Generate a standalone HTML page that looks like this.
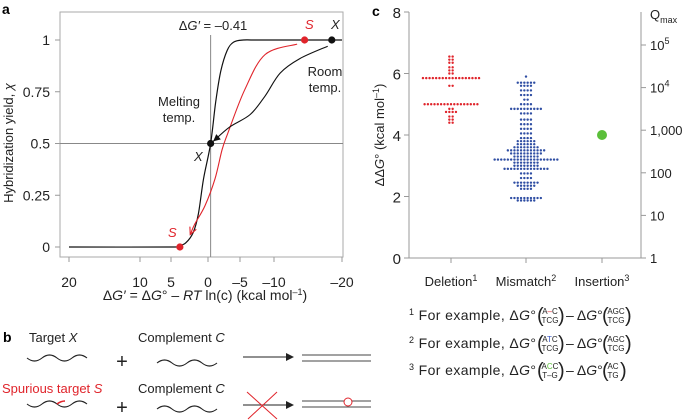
<!DOCTYPE html>
<html><head><meta charset="utf-8">
<style>
html,body{margin:0;padding:0;background:#fff;}
svg{display:block;font-family:"Liberation Sans",sans-serif;}
</style></head>
<body>
<svg id="fig" width="685" height="420" viewBox="0 0 685 420" xmlns="http://www.w3.org/2000/svg">
<defs>
<marker id="ahb" markerWidth="8" markerHeight="8" refX="7" refY="4" orient="auto" markerUnits="userSpaceOnUse"><path d="M0,0 L8,4 L0,8 z" fill="#222"/></marker>
</defs>
<!-- Panel a -->
<g id="pa">
  <text x="2" y="14" font-size="14" font-weight="bold">a</text>
  <rect x="60" y="12" width="283" height="245" fill="none" stroke="#aaa" stroke-width="1"/>
  <text transform="translate(13,143) rotate(-90)" text-anchor="middle" font-size="13" fill="#222">Hybridization yield, <tspan font-style="italic">χ</tspan></text>
  <text x="205" y="300" text-anchor="middle" font-size="14" fill="#222">Δ<tspan font-style="italic">G′</tspan> = Δ<tspan font-style="italic">G</tspan>° – <tspan font-style="italic">RT</tspan> ln(c) (kcal mol<tspan dy="-5" font-size="9">–1</tspan><tspan dy="5">)</tspan></text>
  <text x="213" y="30" text-anchor="middle" font-size="13" fill="#222">Δ<tspan font-style="italic">G′</tspan> = –0.41</text>
  <text x="325" y="76" text-anchor="middle" font-size="13" fill="#222">Room</text>
  <text x="325" y="92" text-anchor="middle" font-size="13" fill="#222">temp.</text>
  <text x="179" y="106" text-anchor="middle" font-size="13" fill="#222">Melting</text>
  <text x="179" y="122" text-anchor="middle" font-size="13" fill="#222">temp.</text>
  <text x="194" y="161" font-size="13" font-style="italic" fill="#222">X</text>
  <text x="331" y="29" font-size="13" font-style="italic" fill="#222">X</text>
  <text x="305" y="29" font-size="13" font-style="italic" fill="#e0242b">S</text>
  <text x="168" y="237" font-size="13" font-style="italic" fill="#e0242b">S</text>
</g>
<!-- Panel c -->
<g id="pc">
  <text x="372" y="16" font-size="14" font-weight="bold">c</text>
  <text transform="translate(384,135) rotate(-90)" text-anchor="middle" font-size="13" fill="#222">ΔΔ<tspan font-style="italic">G</tspan>° (kcal mol<tspan dy="-5" font-size="9">–1</tspan><tspan dy="5">)</tspan></text>
  <text x="650" y="19" font-size="13" fill="#222">Q<tspan dy="4" font-size="9">max</tspan></text>
</g>
<!-- Panel b -->
<g id="pb">
  <text x="3" y="342" font-size="14" font-weight="bold">b</text>
  <text x="29" y="342" font-size="13" fill="#222">Target <tspan font-style="italic">X</tspan></text>
  <text x="138" y="342" font-size="13" fill="#222">Complement <tspan font-style="italic">C</tspan></text>
  <text x="2" y="393" font-size="13" fill="#e0242b">Spurious target <tspan font-style="italic">S</tspan></text>
  <text x="138" y="393" font-size="13" fill="#222">Complement <tspan font-style="italic">C</tspan></text>
  <path d="M27,358 q7.5,6 15,0 t15,0 t15,0 t15,0" fill="none" stroke="#222" stroke-width="1.1"/>
  <path d="M157,363 q7.5,-6 15,0 t15,0 t15,0 t15,0" fill="none" stroke="#222" stroke-width="1.1"/>
  <text x="122" y="368" text-anchor="middle" font-size="20" fill="#222">+</text>
  <line x1="243" y1="357" x2="293" y2="357" stroke="#222" stroke-width="1" marker-end="url(#ahb)"/>
  <line x1="302" y1="355" x2="371" y2="355" stroke="#444" stroke-width="1"/>
  <line x1="302" y1="361" x2="371" y2="361" stroke="#444" stroke-width="1"/>
  <path d="M27,404 q7.5,6 15,0 t15,0 t15,0 t15,0" fill="none" stroke="#222" stroke-width="1.1"/>
  <path d="M57,404 q4,-3 8,-3" fill="none" stroke="#e0242b" stroke-width="1.6"/>
  <path d="M157,409 q7.5,-6 15,0 t15,0 t15,0 t15,0" fill="none" stroke="#222" stroke-width="1.1"/>
  <text x="122" y="414" text-anchor="middle" font-size="20" fill="#222">+</text>
  <line x1="243" y1="405" x2="293" y2="405" stroke="#222" stroke-width="1" marker-end="url(#ahb)"/>
  <line x1="247" y1="392" x2="277" y2="419" stroke="#e0242b" stroke-width="1"/>
  <line x1="277" y1="392" x2="248" y2="419" stroke="#e0242b" stroke-width="1"/>
  <line x1="302" y1="401" x2="371" y2="401" stroke="#444" stroke-width="1"/>
  <line x1="302" y1="407" x2="371" y2="407" stroke="#444" stroke-width="1"/>
  <circle cx="348" cy="402" r="4" fill="#fff" stroke="#e0242b" stroke-width="1"/>
</g>
<!-- Footnotes -->
<g id="fn" font-size="14" fill="#222">
  <g>
    <text x="409" y="320" textLength="127" lengthAdjust="spacing"><tspan font-size="9" dy="-5">1</tspan><tspan dy="5"> For example, Δ</tspan><tspan font-style="italic">G</tspan>°</text>
    <text x="537" y="322" font-size="20">(</text>
    <text x="550" y="314" font-size="8" text-anchor="middle">A<tspan fill="#e0242b">–</tspan>C</text>
    <text x="550" y="323" font-size="8" text-anchor="middle">TCG</text>
    <text x="558" y="322" font-size="20">)</text>
    <text x="566" y="320"> – Δ<tspan font-style="italic">G</tspan>°</text>
    <text x="602" y="322" font-size="20">(</text>
    <text x="616" y="314" font-size="8" text-anchor="middle">AGC</text>
    <text x="616" y="323" font-size="8" text-anchor="middle">TCG</text>
    <text x="625" y="322" font-size="20">)</text>
  </g>
  <g>
    <text x="409" y="348" textLength="127" lengthAdjust="spacing"><tspan font-size="9" dy="-5">2</tspan><tspan dy="5"> For example, Δ</tspan><tspan font-style="italic">G</tspan>°</text>
    <text x="537" y="350" font-size="20">(</text>
    <text x="550" y="342" font-size="8" text-anchor="middle">A<tspan fill="#3a57c4">T</tspan>C</text>
    <text x="550" y="351" font-size="8" text-anchor="middle">TCG</text>
    <text x="558" y="350" font-size="20">)</text>
    <text x="566" y="348"> – Δ<tspan font-style="italic">G</tspan>°</text>
    <text x="602" y="350" font-size="20">(</text>
    <text x="616" y="342" font-size="8" text-anchor="middle">AGC</text>
    <text x="616" y="351" font-size="8" text-anchor="middle">TCG</text>
    <text x="625" y="350" font-size="20">)</text>
  </g>
  <g>
    <text x="409" y="375" textLength="127" lengthAdjust="spacing"><tspan font-size="9" dy="-5">3</tspan><tspan dy="5"> For example, Δ</tspan><tspan font-style="italic">G</tspan>°</text>
    <text x="537" y="377" font-size="20">(</text>
    <text x="550" y="369" font-size="8" text-anchor="middle">A<tspan fill="#5bbf3a">C</tspan>C</text>
    <text x="550" y="378" font-size="8" text-anchor="middle">T–G</text>
    <text x="558" y="377" font-size="20">)</text>
    <text x="566" y="375"> – Δ<tspan font-style="italic">G</tspan>°</text>
    <text x="602" y="377" font-size="20">(</text>
    <text x="613" y="369" font-size="8" text-anchor="middle">AC</text>
    <text x="613" y="378" font-size="8" text-anchor="middle">TG</text>
    <text x="620" y="377" font-size="20">)</text>
  </g>
</g>
</svg>
<script>
// ---------- Panel a data ----------
const aXTicks = [20, 10, 5, 0, -5, -10, -20];
const aXTickLabels = ["20", "10", "5", "0", "–5", "–10", "–20"];
const aYTicks = [0, 0.25, 0.5, 0.75, 1];
const aYTickLabels = ["0", "0.25", "0.5", "0.75", "1"];
const meltingDG = -0.41;
const steepDG = [20, 5, 4, 3, 2, 1.3, 0.6, -0.41, -1.2, -2, -3, -4, -5.5, -8, -20];
const steepChi = [0, 0, 0.004, 0.02, 0.07, 0.16, 0.33, 0.5, 0.7, 0.85, 0.95, 0.99, 1, 1, 1];
const redDG = [-13.4, -8.7, -5.7, -3.1, -2.2, -1.1, 0.4, 1.8, 2.4];
const redChi = [0.98, 0.93, 0.76, 0.55, 0.47, 0.33, 0.2, 0.11, 0.06];
const roomDG = [-17.9, -13.8, -10.9, -8.7, -6.5, -3.4, -0.8];
const roomChi = [0.97, 0.91, 0.84, 0.73, 0.64, 0.58, 0.51];
const pointsDG = [-18.5, -0.41, -14.5, 3.8];
const pointsChi = [1, 0.5, 1, 0];
const pointsColor = ["#111", "#111", "#e0242b", "#e0242b"];

// ---------- Panel c data ----------
const cCategories = ["Deletion", "Mismatch", "Insertion"];
const cCatSup = ["1", "2", "3"];
const cYTicks = [0, 2, 4, 6, 8];
const cQTicks = ["1", "10", "100", "1,000", "10^4", "10^5"];
const delLevels = [6.55, 6.45, 6.35, 6.2, 6.1, 6.0, 5.85, 5.6, 5.0, 4.85, 4.75, 4.6, 4.5, 4.4];
const delCounts = [2, 2, 2, 2, 2, 2, 18, 2, 17, 2, 4, 2, 2, 2];
const misLevels = [5.9, 5.7, 5.6, 5.45, 5.3, 5.15, 5.0, 4.85, 4.7, 4.5, 4.35, 4.2, 4.05, 3.9, 3.8, 3.7, 3.6, 3.5, 3.4, 3.3, 3.2, 3.1, 3.0, 2.9, 2.75, 2.6, 2.45, 2.35, 2.25, 1.95, 1.87];
const misCounts = [1, 6, 4, 4, 4, 2, 4, 10, 4, 4, 4, 4, 4, 4, 6, 6, 8, 12, 10, 8, 20, 8, 8, 14, 4, 4, 8, 6, 4, 10, 6];
const insValues = [4.0];

const NS = "http://www.w3.org/2000/svg";
function mk(tag, attrs, parent) {
  const e = document.createElementNS(NS, tag);
  for (const k in attrs) e.setAttribute(k, attrs[k]);
  parent.appendChild(e);
  return e;
}
const aXPix = [69, 140, 171, 208, 240, 274, 342];
function ax(v) {
  for (let i = 0; i < aXTicks.length - 1; i++) {
    const a = aXTicks[i], b = aXTicks[i + 1];
    if ((v <= a && v >= b) || i === aXTicks.length - 2 || (i === 0 && v > a)) {
      return aXPix[i] + (v - a) / (b - a) * (aXPix[i + 1] - aXPix[i]);
    }
  }
}
function ay(c) { return 247 - c * 207; }
const pa = document.getElementById('pa');
aYTicks.forEach((t, i) => {
  const l = mk('line', {x1: 55, x2: 60, y1: ay(t), y2: ay(t), stroke: '#999'}, pa);
  
  
  const tx = mk('text', {x: 50, y: ay(t) + 5, 'text-anchor': 'end', 'font-size': 14, fill: '#222'}, pa);
  tx.textContent = aYTickLabels[i];
  
  
});
aXTicks.forEach((t, i) => {
  const l = mk('line', {x1: ax(t), x2: ax(t), y1: 257, y2: 262, stroke: '#999'}, pa);
  
  
  const tx = mk('text', {x: ax(t), y: 287, 'text-anchor': 'middle', 'font-size': 14, fill: '#222'}, pa);
  tx.textContent = aXTickLabels[i];
  
  
});
const vl = mk('line', {x1: ax(meltingDG), x2: ax(meltingDG), y1: 35, y2: 257, stroke: '#888'}, pa);


const hl = mk('line', {x1: 60, x2: 343, y1: ay(0.5), y2: ay(0.5), stroke: '#888'}, pa);


function smooth(xs, ys) {
  const P = xs.map((x, i) => [ax(x), ay(ys[i])]);
  let d = 'M' + P[0][0] + ',' + P[0][1];
  for (let i = 0; i < P.length - 1; i++) {
    const p0 = P[Math.max(0, i - 1)], p1 = P[i], p2 = P[i + 1], p3 = P[Math.min(P.length - 1, i + 2)];
    const c1 = [p1[0] + (p2[0] - p0[0]) / 6, p1[1] + (p2[1] - p0[1]) / 6];
    const c2 = [p2[0] - (p3[0] - p1[0]) / 6, p2[1] - (p3[1] - p1[1]) / 6];
    d += ' C' + c1 + ' ' + c2 + ' ' + p2;
  }
  return d;
}
const sc = mk('path', {d: smooth(steepDG, steepChi), fill: 'none', stroke: '#111', 'stroke-width': 1.2}, pa);


const rc = mk('path', {d: smooth(redDG, redChi), fill: 'none', stroke: '#e0242b', 'stroke-width': 1.1}, pa);


const bc = mk('path', {d: smooth(roomDG, roomChi), fill: 'none', stroke: '#111', 'stroke-width': 1.1}, pa);


function head(xs, ys) {
  const n = xs.length;
  const x2 = ax(xs[n - 1]), y2 = ay(ys[n - 1]), x1 = ax(xs[n - 2]), y1 = ay(ys[n - 2]);
  const a = Math.atan2(y2 - y1, x2 - x1), L = 8, w = 0.45;
  return [[x2 - L * Math.cos(a - w), y2 - L * Math.sin(a - w)], [x2, y2], [x2 - L * Math.cos(a + w), y2 - L * Math.sin(a + w)]];
}
const rh = head(redDG, redChi);
const rhp = mk('polyline', {points: rh.map(p => p.join(',')).join(' '), fill: 'none', stroke: '#e0242b', 'stroke-width': 1.1}, pa);


const bh = head(roomDG, roomChi);
const bhp = mk('polygon', {points: bh.map(p => p.join(',')).join(' '), fill: '#111'}, pa);


pointsDG.forEach((v, i) => {
  const c = mk('circle', {cx: ax(v), cy: ay(pointsChi[i]), r: 3.6, fill: pointsColor[i]}, pa);
  
  
});

// Panel c
const pc = document.getElementById('pc');
function cy(v) { return 258 - v * 30.75; }
const catX = [451, 526, 602];
const la = mk('line', {x1: 409, x2: 409, y1: 12, y2: 258, stroke: '#999'}, pc);


const ra = mk('line', {x1: 641, x2: 641, y1: 12, y2: 258, stroke: '#999'}, pc);


const ba = mk('line', {x1: 409, x2: 641, y1: 258, y2: 258, stroke: '#999'}, pc);


cYTicks.forEach(t => {
  const l = mk('line', {x1: 404, x2: 409, y1: cy(t), y2: cy(t), stroke: '#999'}, pc);
  
  
  const tx = mk('text', {x: 401, y: cy(t) + 6, 'text-anchor': 'end', 'font-size': 15, fill: '#222'}, pc);
  tx.textContent = String(t);
  
  
});
cQTicks.forEach((t, i) => {
  const y = 258 - i * 42.6;
  const l = mk('line', {x1: 641, x2: 646, y1: y, y2: y, stroke: '#999'}, pc);
  
  
  const tx = mk('text', {x: 650, y: y + 5, 'font-size': 13, fill: '#222'}, pc);
  if (t.indexOf('^') > 0) {
    const parts = t.split('^');
    tx.textContent = parts[0];
    const sp = mk('tspan', {dy: -6, 'font-size': 9}, tx);
    sp.textContent = parts[1];
  } else tx.textContent = t;
  
  
});
cCategories.forEach((c, i) => {
  const l = mk('line', {x1: catX[i], x2: catX[i], y1: 258, y2: 263, stroke: '#999'}, pc);
  
  
  const tx = mk('text', {x: catX[i], y: 286, 'text-anchor': 'middle', 'font-size': 13, fill: '#222'}, pc);
  tx.textContent = c;
  const sp = mk('tspan', {dy: -5, 'font-size': 9}, tx);
  sp.textContent = cCatSup[i];
  
  
});
function swarm(levels, counts, cx, color, name) {
  levels.forEach((v, i) => {
    const n = counts[i];
    for (let k = 0; k < n; k++) {
      const c = mk('circle', {cx: cx + (k - (n - 1) / 2) * 3.3, cy: cy(v), r: 1.2, fill: color}, pc);
      
      
    }
  });
}
swarm(delLevels, delCounts, catX[0], '#e0242b', 'deletion-dot');
swarm(misLevels, misCounts, catX[1], '#2f4ea3', 'mismatch-dot');
insValues.forEach(v => {
  const c = mk('circle', {cx: catX[2], cy: cy(v), r: 5, fill: '#5bbf3a'}, pc);
  
  
});
</script>
</body></html>
